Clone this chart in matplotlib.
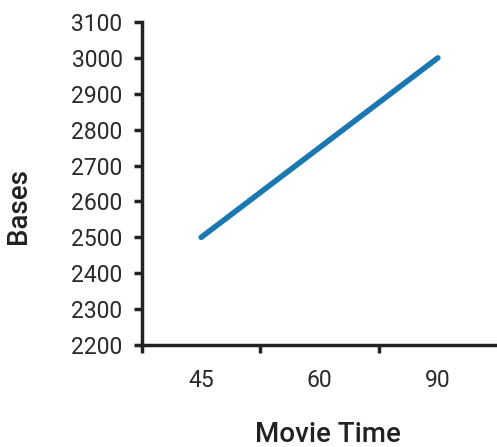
import matplotlib
matplotlib.use("Agg")
import matplotlib.pyplot as plt

plt.rcParams['font.family'] = ['Roboto', 'DejaVu Sans']

movie_time = ['45', '60', '90']
bases = [2500, 2750, 3000]

fig = plt.figure(figsize=(4.97, 4.47), dpi=100)
ax = fig.add_axes([142 / 497, 102 / 447, 1 - 142 / 497, (345 - 22) / 447])

x = list(range(len(movie_time)))
ax.plot(x, bases, color='#1a77b2', linewidth=4, solid_capstyle='round')

ax.set_xlim(-0.5, 2.5)
ax.set_ylim(2200, 3100)
ax.set_yticks(range(2200, 3101, 100))
ax.set_xticks(x)
ax.set_xticklabels(movie_time)
ax.set_xticks([-0.5, 0.5, 1.5], minor=True)
ax.tick_params(axis='x', which='major', length=0, pad=17, labelsize=16.5, colors='#2a2a2a')
ax.tick_params(axis='x', which='minor', length=6, width=2.5, color='#222222')
ax.tick_params(axis='y', length=6, width=2.5, color='#222222', labelsize=16.5, labelcolor='#2a2a2a', pad=8)

for s in ['top', 'right']:
    ax.spines[s].set_visible(False)
for s in ['left', 'bottom']:
    ax.spines[s].set_linewidth(2.5)
    ax.spines[s].set_color('#222222')

ax.set_xlabel('Movie Time', fontsize=20, fontweight='medium', color='#222222')
ax.set_ylabel('Bases', fontsize=20, fontweight='medium', color='#222222')
ax.xaxis.set_label_coords(0.5225, -0.235)
ax.yaxis.set_label_coords(-0.31, 0.43)

fig.savefig('out.png', dpi=100)
